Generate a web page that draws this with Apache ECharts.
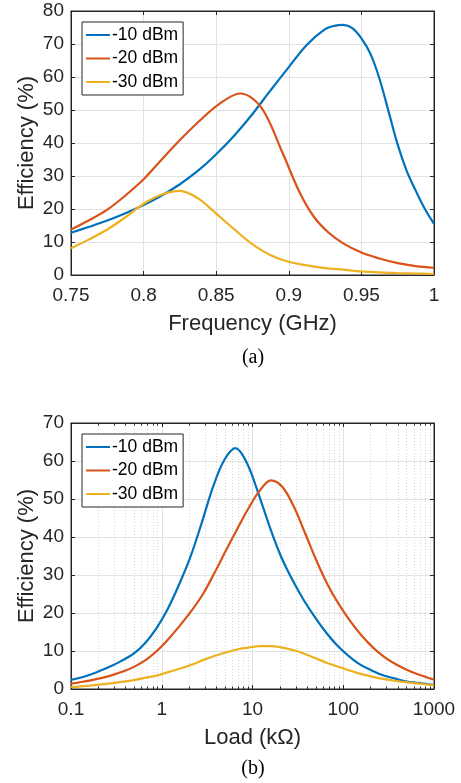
<!DOCTYPE html>
<html>
<head>
<meta charset="utf-8">
<script src="https://cdn.jsdelivr.net/npm/echarts@6/dist/echarts.min.js"></script>
<style>
html,body{margin:0;padding:0;background:#fff;}
#c{width:461px;height:783px;}
</style>
</head>
<body>
<div id="c"></div>
<script>
const seriesNames = ['-10 dBm', '-20 dBm', '-30 dBm'];

// ---- Chart (a): efficiency (%) vs frequency (GHz) ----
const freq10 = [0.75, 0.7625, 0.775, 0.7875, 0.8, 0.8125, 0.825, 0.8375, 0.85, 0.8625, 0.875, 0.8875, 0.9, 0.9125, 0.925, 0.93125, 0.9375, 0.94375, 0.95, 0.95625, 0.9625, 0.96875, 0.975, 0.98125, 0.9875, 0.99375, 1.0];
const effFreq10 = [12.8, 14.6, 16.5, 18.7, 21.2, 24.1, 27.5, 31.6, 36.6, 42.3, 48.8, 56.0, 63.0, 69.8, 74.5, 75.5, 75.8, 74.8, 71.7, 67.0, 59.4, 49.5, 39.5, 31.5, 25.5, 20.0, 15.5];
const freq20 = [0.75, 0.7625, 0.775, 0.7875, 0.8, 0.8125, 0.825, 0.8375, 0.852, 0.8665, 0.881, 0.8955, 0.9075, 0.9175, 0.9275, 0.9375, 0.95, 0.9625, 0.975, 0.9875, 1.0];
const effFreq20 = [13.8, 16.6, 19.8, 24.1, 29.0, 35.0, 40.9, 46.3, 51.8, 55.0, 50.8, 37.2, 25.0, 17.5, 12.8, 9.6, 6.8, 5.0, 3.6, 2.7, 2.2];
const freq30 = [0.75, 0.7625, 0.775, 0.7875, 0.8, 0.8125, 0.825, 0.8375, 0.85, 0.8625, 0.875, 0.8875, 0.9, 0.9125, 0.925, 0.9375, 0.95, 0.9625, 0.975, 0.9875, 1.0];
const effFreq30 = [8.1, 10.8, 13.8, 17.5, 21.6, 24.4, 25.5, 23.2, 18.6, 13.8, 9.3, 6.0, 4.0, 2.9, 2.1, 1.6, 1.1, 0.8, 0.6, 0.45, 0.3];

// ---- Chart (b): efficiency (%) vs load (kOhm) ----
const load10 = [0.1, 0.15, 0.2, 0.27, 0.36, 0.49, 0.65, 0.87, 1.16, 1.54, 2.05, 2.74, 3.65, 4.87, 6.5, 8.67, 11.6, 15.4, 20.5, 27.4, 36.5, 48.7, 65, 87, 116, 154, 205, 274, 365, 487, 650, 870, 1000];
const effLoad10 = [2.4, 3.5, 4.6, 5.9, 7.4, 9.3, 12.0, 15.9, 21.0, 27.3, 34.5, 43.5, 53.0, 60.2, 63.4, 59.5, 51.5, 42.8, 35.0, 28.8, 23.5, 18.9, 14.8, 11.3, 8.6, 6.4, 4.9, 3.6, 2.8, 2.05, 1.6, 1.25, 1.1];
const loadGrid = [0.1, 0.12, 0.16, 0.213, 0.285, 0.38, 0.506, 0.675, 0.9, 1.2, 1.6, 2.13, 2.85, 3.8, 5.06, 6.75, 9, 12, 16, 21.3, 28.5, 38, 50.6, 67.5, 90, 120, 160, 213, 285, 380, 506, 675, 900, 1000];
const effLoad20 = [1.4, 1.7, 2.2, 2.85, 3.65, 4.65, 5.95, 7.75, 10.2, 13.3, 16.8, 20.6, 25.0, 30.5, 36.3, 42.0, 47.5, 52.2, 54.9, 53.2, 48.0, 41.0, 33.8, 27.4, 22.2, 17.8, 14.0, 10.9, 8.4, 6.5, 5.0, 3.8, 2.8, 2.5];
const effLoad30 = [0.55, 0.65, 0.9, 1.2, 1.55, 1.95, 2.4, 3.0, 3.6, 4.5, 5.4, 6.4, 7.6, 8.7, 9.6, 10.4, 10.9, 11.3, 11.3, 10.9, 10.2, 9.2, 8.0, 6.8, 5.8, 4.8, 3.9, 3.2, 2.6, 2.1, 1.75, 1.4, 1.1, 1.0];

const freqTicks = {min: 0.75, max: 1, interval: 0.05};
const effTicksA = {min: 0, max: 80, interval: 10};
const loadTicks = {min: 0.1, max: 1000};
const effTicksB = {min: 0, max: 70, interval: 10};

const colors = ['#0072BD', '#D95319', '#EDB120'];
const axisColor = '#262626';
const gridColor = '#e2e2e2';
const FONT = '"Liberation Sans", Arial, Helvetica, sans-serif';

function zip(xs, ys) { return xs.map((x, i) => [x, ys[i]]); }

function mainX(gridIndex, extra) {
  return Object.assign({
    gridIndex, position: 'bottom',
    axisLine: {show: true, onZero: false, lineStyle: {color: axisColor, width: 1}},
    axisTick: {show: true, inside: true, length: 4, lineStyle: {color: axisColor}},
    axisLabel: {show: true, color: axisColor, fontSize: 19, fontFamily: FONT, margin: 11,
      formatter: v => String(v)},
    splitLine: {show: true, lineStyle: {color: gridColor, width: 1}},
    nameLocation: 'middle', nameGap: 38, nameMoveOverlap: false,
    nameTextStyle: {color: axisColor, fontSize: 22, fontFamily: FONT}
  }, extra);
}
function mirrorX(gridIndex, extra) {
  return Object.assign({
    gridIndex, position: 'top',
    axisLine: {show: true, onZero: false, lineStyle: {color: axisColor, width: 1}},
    axisTick: {show: true, inside: true, length: 4, lineStyle: {color: axisColor}},
    axisLabel: {show: false},
    splitLine: {show: false}
  }, extra);
}
function mainY(gridIndex, extra) {
  return Object.assign({
    gridIndex, type: 'value', position: 'left',
    axisLine: {show: true, onZero: false, lineStyle: {color: axisColor, width: 1}},
    axisTick: {show: true, inside: true, length: 4, lineStyle: {color: axisColor}},
    axisLabel: {show: true, color: axisColor, fontSize: 19, fontFamily: FONT, margin: 7},
    splitLine: {show: true, lineStyle: {color: gridColor, width: 1}},
    name: 'Efficiency (%)', nameLocation: 'middle', nameGap: 33, nameMoveOverlap: false,
    nameTextStyle: {color: axisColor, fontSize: 22, fontFamily: FONT}
  }, extra);
}
function mirrorY(gridIndex, extra) {
  return Object.assign({
    gridIndex, type: 'value', position: 'right',
    axisLine: {show: true, onZero: false, lineStyle: {color: axisColor, width: 1}},
    axisTick: {show: true, inside: true, length: 4, lineStyle: {color: axisColor}},
    axisLabel: {show: false},
    splitLine: {show: false}
  }, extra);
}

const logMinor = {
  minorTick: {show: true, splitNumber: 9, length: 2.5, lineStyle: {color: axisColor}},
};

function lineSeries(name, xIdx, yIdx, data, color) {
  return {
    name, type: 'line', xAxisIndex: xIdx, yAxisIndex: yIdx,
    data, smooth: 0.35, showSymbol: false, symbol: 'none',
    lineStyle: {color, width: 2.2}, itemStyle: {color}, animation: false, z: 5
  };
}

function legendAt(top) {
  return {
    data: seriesNames, orient: 'vertical', left: 82, top,
    icon: 'path://M0,0 L24,0 L24,2 L0,2 Z',
    padding: [4, 5, 4, 4], itemGap: 5.5, itemWidth: 24, itemHeight: 2.2,
    backgroundColor: '#fff', borderColor: axisColor, borderWidth: 1,
    textStyle: {color: '#000', fontSize: 17.5, fontFamily: FONT, padding: [0, 0, 0, -3]},
    selectedMode: false
  };
}

const option = {
  animation: false,
  backgroundColor: '#fff',
  textStyle: {fontFamily: FONT},
  grid: [
    {left: 71, top: 11, width: 363, height: 264, show: true, borderColor: axisColor, borderWidth: 1, backgroundColor: '#fff'},
    {left: 71, top: 423, width: 363, height: 266, show: true, borderColor: axisColor, borderWidth: 1, backgroundColor: '#fff'}
  ],
  legend: [legendAt(22), legendAt(434)],
  xAxis: [
    mainX(0, Object.assign({type: 'value', name: 'Frequency (GHz)'}, freqTicks)),
    mirrorX(0, Object.assign({type: 'value'}, freqTicks)),
    mainX(1, Object.assign({type: 'log', logBase: 10, name: 'Load (k\u03A9)',
      minorSplitLine: {show: true, lineStyle: {color: '#d6d6d6', width: 1, type: [1, 2]}}
    }, loadTicks, logMinor)),
    mirrorX(1, Object.assign({type: 'log', logBase: 10}, loadTicks, logMinor))
  ],
  yAxis: [
    mainY(0, effTicksA),
    mirrorY(0, effTicksA),
    mainY(1, effTicksB),
    mirrorY(1, effTicksB)
  ],
  series: [
    lineSeries(seriesNames[0], 0, 0, zip(freq10, effFreq10), colors[0]),
    lineSeries(seriesNames[1], 0, 0, zip(freq20, effFreq20), colors[1]),
    lineSeries(seriesNames[2], 0, 0, zip(freq30, effFreq30), colors[2]),
    lineSeries(seriesNames[0], 2, 2, zip(load10, effLoad10), colors[0]),
    lineSeries(seriesNames[1], 2, 2, zip(loadGrid, effLoad20), colors[1]),
    lineSeries(seriesNames[2], 2, 2, zip(loadGrid, effLoad30), colors[2])
  ],
  graphic: [
    {type: 'text', x: 253, y: 358, style: {text: '(a)', align: 'center', verticalAlign: 'middle', fill: '#000', font: '20px "Liberation Serif", "Times New Roman", serif'}},
    {type: 'text', x: 253, y: 769, style: {text: '(b)', align: 'center', verticalAlign: 'middle', fill: '#000', font: '20px "Liberation Serif", "Times New Roman", serif'}}
  ]
};

const chart = echarts.init(document.getElementById('c'), null, {renderer: 'canvas'});
chart.setOption(option);
</script>
</body>
</html>
